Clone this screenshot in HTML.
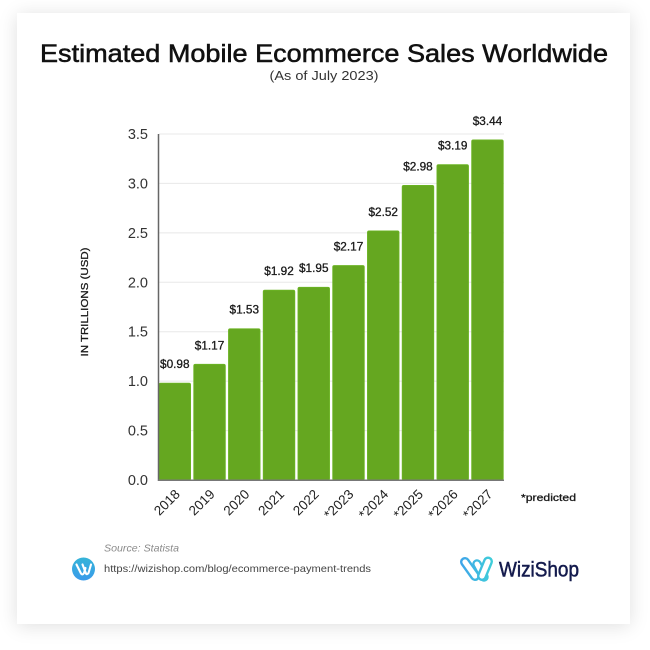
<!DOCTYPE html>
<html lang="en">
<head>
<meta charset="utf-8">
<title>Estimated Mobile Ecommerce Sales Worldwide</title>
<style>
html,body{margin:0;padding:0;background:#fff;width:650px;height:650px;overflow:hidden}
#card{position:absolute;left:17px;top:13px;width:613px;height:611px;background:#fff;box-shadow:0 2px 18px rgba(0,0,0,.13)}
#stage{position:absolute;left:0;top:0}
text{font-family:"Liberation Sans",sans-serif}
</style>
</head>
<body>
<div id="card"></div>
<svg id="stage" width="650" height="650" viewBox="0 0 650 650">
  <text x="324" y="62" text-anchor="middle" font-size="25" fill="#111" stroke="#111" stroke-width="0.55" textLength="568" lengthAdjust="spacingAndGlyphs">Estimated Mobile Ecommerce Sales Worldwide</text>
  <text x="324" y="80" text-anchor="middle" font-size="13" fill="#333" textLength="109" lengthAdjust="spacingAndGlyphs">(As of July 2023)</text>
  <text transform="translate(88,302) rotate(-90)" text-anchor="middle" font-size="10.5" fill="#1a1a1a" stroke="#1a1a1a" stroke-width="0.3" textLength="109" lengthAdjust="spacingAndGlyphs">IN TRILLIONS (USD)</text>
  <g id="grid"></g>
  <g id="bars"></g>
  <g id="ylabels"></g>
  <g id="xlabels"></g>
  <g id="values"></g>
  <line x1="158.5" y1="134" x2="158.5" y2="481" stroke="#666" stroke-width="1.5"/>
  <line x1="158" y1="480.2" x2="504" y2="480.2" stroke="#777" stroke-width="1.5"/>
  <text x="521" y="501" font-size="10" fill="#1a1a1a" stroke="#1a1a1a" stroke-width="0.3" textLength="55" lengthAdjust="spacingAndGlyphs">*predicted</text>
  <text x="104" y="551.5" font-size="10.5" font-style="italic" fill="#8a8a8a" textLength="75" lengthAdjust="spacingAndGlyphs">Source: Statista</text>
  <defs>
    <linearGradient id="badgeFill" x1="0" y1="0" x2="0" y2="1"><stop offset="0" stop-color="#35b4d8"/><stop offset="1" stop-color="#3a9bea"/></linearGradient>
    <linearGradient id="logoFill" gradientUnits="userSpaceOnUse" x1="459" y1="570" x2="494" y2="570"><stop offset="0" stop-color="#3ea2ea"/><stop offset="1" stop-color="#3fd0d8"/></linearGradient>
  </defs>
  <g>
    <circle cx="83.5" cy="569" r="11.5" fill="url(#badgeFill)"/>
    <path d="M76.5 564.5 L81 573.5 Q82.5 575.5 84 573 L85.5 568 M82.5 564.5 L86 573.5 Q87 575 88.5 573 L91 564.5" fill="none" stroke="#fff" stroke-width="2.1" stroke-linecap="round" stroke-linejoin="round"/>
  </g>
  <text x="104" y="572" font-size="10.5" fill="#444" textLength="267" lengthAdjust="spacingAndGlyphs">https://wizishop.com/blog/ecommerce-payment-trends</text>
  <g fill="none" stroke-linecap="round">
    <line x1="477" y1="564" x2="484" y2="577" stroke="url(#logoFill)" stroke-width="9.5"/>
    <line x1="477" y1="564" x2="484" y2="577" stroke="#fff" stroke-width="5"/>
    <line x1="465" y1="562" x2="475" y2="576" stroke="url(#logoFill)" stroke-width="10"/>
    <line x1="465" y1="562" x2="475" y2="576" stroke="#fff" stroke-width="5.2"/>
    <line x1="488" y1="561.5" x2="482" y2="576" stroke="url(#logoFill)" stroke-width="10"/>
    <line x1="488" y1="561.5" x2="482" y2="576" stroke="#fff" stroke-width="5.2"/>
  </g>
  <text x="499" y="576.5" font-size="21" fill="#141b4d" stroke="#141b4d" stroke-width="0.5" textLength="80" lengthAdjust="spacingAndGlyphs">WiziShop</text>
  <script>
    var categories = ['2018','2019','2020','2021','2022','*2023','*2024','*2025','*2026','*2027'];
    var salesTrillions = [0.98,1.17,1.53,1.92,1.95,2.17,2.52,2.98,3.19,3.44];
    var valueLabels = ['$0.98','$1.17','$1.53','$1.92','$1.95','$2.17','$2.52','$2.98','$3.19','$3.44'];
    var yTicks = [0,0.5,1,1.5,2,2.5,3,3.5];
    var yTickLabels = ['0.0','0.5','1.0','1.5','2.0','2.5','3.0','3.5'];

    var NS = 'http://www.w3.org/2000/svg';
    var plotLeft = 159, plotRight = 504, plotTop = 134, plotBottom = 480;
    var yMax = 3.5, barPitch = 34.74, barWidth = 31.6;
    function yScale(v){ return plotBottom - (v / yMax) * (plotBottom - plotTop); }
    function xScale(i){ return plotLeft + i * barPitch; }
    function make(tag, attrs, parent){
      var el = document.createElementNS(NS, tag);
      for (var k in attrs) el.setAttribute(k, attrs[k]);
      parent.appendChild(el);
      return el;
    }
    var gridG = document.getElementById('grid');
    var barsG = document.getElementById('bars');
    var yG = document.getElementById('ylabels');
    var xG = document.getElementById('xlabels');
    var valG = document.getElementById('values');

    yTicks.forEach(function(t, i){
      if (t > 0) {
        var line = make('line', {x1: plotLeft, x2: plotRight, y1: yScale(t), y2: yScale(t), stroke: '#e8e8e8', 'stroke-width': 1}, gridG);
        
        
      }
      var label = make('text', {x: 148, y: yScale(t) + 5, 'text-anchor': 'end', 'font-size': 14.5, fill: '#333'}, yG);
      label.textContent = yTickLabels[i];
      
      
    });

    categories.forEach(function(c, i){
      var x = xScale(i), y = yScale(salesTrillions[i]);
      var bar = make('rect', {x: x, y: y, width: barWidth, height: plotBottom - y, rx: 1.5, fill: '#65a720', stroke: '#6cb524', 'stroke-width': 0.8}, barsG);
      
      

      var val = make('text', {x: x + barWidth / 2, y: y - 15, 'text-anchor': 'middle', 'font-size': 11.5, fill: '#1a1a1a', stroke: '#1a1a1a', 'stroke-width': 0.3, textLength: 29.5, lengthAdjust: 'spacingAndGlyphs'}, valG);
      val.textContent = valueLabels[i];
      
      

      var ax = x + barWidth / 2 + 6, ay = 495;
      var lab = make('text', {x: ax, y: ay, 'text-anchor': 'end', 'font-size': 13.5, fill: '#222', transform: 'rotate(-45 ' + ax + ' ' + ay + ')'}, xG);
      lab.textContent = c;
      
      
    });
  </script>
</svg>
</body>
</html>
